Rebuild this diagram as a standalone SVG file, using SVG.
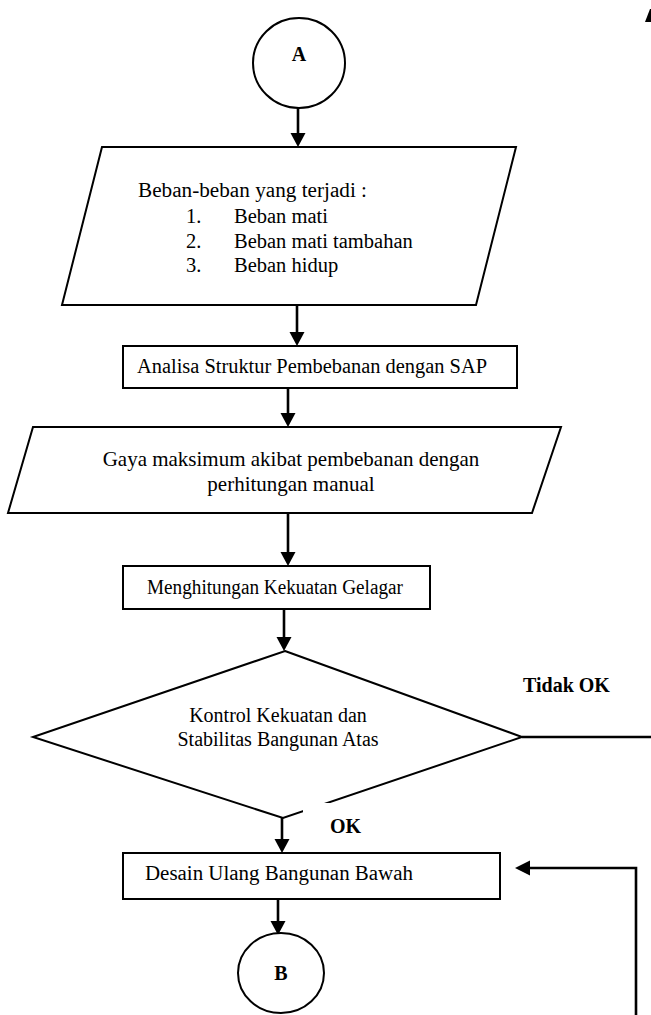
<svg xmlns="http://www.w3.org/2000/svg" width="651" height="1015" viewBox="0 0 651 1015">
<defs>
<style>
.shape{fill:#fff;stroke:#000;stroke-width:2}
.t{font-family:"Liberation Serif","Times New Roman",serif;font-size:20.5px;fill:#000}
.b{font-family:"Liberation Serif","Times New Roman",serif;font-size:20px;font-weight:bold;fill:#000}
.c{text-anchor:middle}
.ln{fill:none;stroke:#000;stroke-width:2.6}
.ah{fill:#000;stroke:none}
</style>
</defs>
<rect width="651" height="1015" fill="#fff"/>
<polygon points="650,9 651,9 651,22 645,22" fill="#000"/>

<g id="connectors">
<line class="ln" x1="298" y1="108" x2="298" y2="134"/>
<polygon class="ah" points="290.5,133 305.5,133 298,147"/>
<line class="ln" x1="297" y1="305" x2="297" y2="333"/>
<polygon class="ah" points="289.5,332 304.5,332 297,346"/>
<line class="ln" x1="288" y1="388" x2="288" y2="414"/>
<polygon class="ah" points="280.5,413 295.5,413 288,427"/>
<line class="ln" x1="288" y1="513" x2="288" y2="553"/>
<polygon class="ah" points="280.5,552 295.5,552 288,566"/>
<line class="ln" x1="284" y1="609" x2="284" y2="638"/>
<polygon class="ah" points="276.5,637 291.5,637 284,651"/>
<line class="ln" x1="282" y1="811" x2="282" y2="840"/>
<polygon class="ah" points="274.5,839 289.5,839 282,853"/>
<line class="ln" x1="278" y1="899" x2="278" y2="922"/>
<polygon class="ah" points="270.5,921 285.5,921 278,935"/>
<line class="ln" x1="522" y1="737" x2="651" y2="737"/>
<polyline class="ln" points="636,1015 636,868 529,868"/>
<polygon class="ah" points="530,860.5 530,875.5 515,868"/>
</g>

<g id="nodeA">
<ellipse class="shape" cx="299" cy="63" rx="46" ry="45"/>
<text class="b c" x="299" y="61">A</text>
</g>

<g id="beban">
<polygon class="shape" points="102,147 516,147 476,305 62,305"/>
<text class="t" x="138" y="197" textLength="229" lengthAdjust="spacingAndGlyphs">Beban-beban yang terjadi :</text>
<text class="t" x="186" y="223">1.</text><text class="t" x="234" y="223">Beban mati</text>
<text class="t" x="186" y="248">2.</text><text class="t" x="234" y="248">Beban mati tambahan</text>
<text class="t" x="186" y="272">3.</text><text class="t" x="234" y="272">Beban hidup</text>
</g>

<g id="analisa">
<rect class="shape" x="123" y="346" width="394" height="42"/>
<text class="t" x="137" y="373" textLength="350" lengthAdjust="spacingAndGlyphs">Analisa Struktur Pembebanan dengan SAP</text>
</g>

<g id="gaya">
<polygon class="shape" points="33,427 561,427 532,513 8,513"/>
<text class="t c" x="291" y="466" style="font-size:21px">Gaya maksimum akibat pembebanan dengan</text>
<text class="t c" x="291" y="491" style="font-size:21px">perhitungan manual</text>
</g>

<g id="hitung">
<rect class="shape" x="123" y="566" width="307" height="43"/>
<text class="t" x="147" y="594" textLength="256" lengthAdjust="spacingAndGlyphs">Menghitungan Kekuatan Gelagar</text>
</g>

<g id="kontrol">
<polygon class="shape" points="285,651 522,737 283,818 33,737"/>
<text class="t c" x="278" y="722" style="font-size:20px">Kontrol Kekuatan dan</text>
<text class="t c" x="278" y="746" style="font-size:20px">Stabilitas Bangunan Atas</text>
</g>

<g id="labels">
<rect x="303" y="803" width="60" height="30" fill="#fff"/>
<text class="b" x="330" y="833">OK</text>
<text class="b" x="523" y="692">Tidak OK</text>
</g>

<g id="desain">
<rect class="shape" x="123" y="853" width="377" height="46"/>
<text class="t" x="145" y="880" textLength="268" lengthAdjust="spacingAndGlyphs">Desain Ulang Bangunan Bawah</text>
</g>

<g id="nodeB">
<ellipse class="shape" cx="281" cy="973" rx="43" ry="40"/>
<text class="b c" x="281" y="980">B</text>
</g>
</svg>
